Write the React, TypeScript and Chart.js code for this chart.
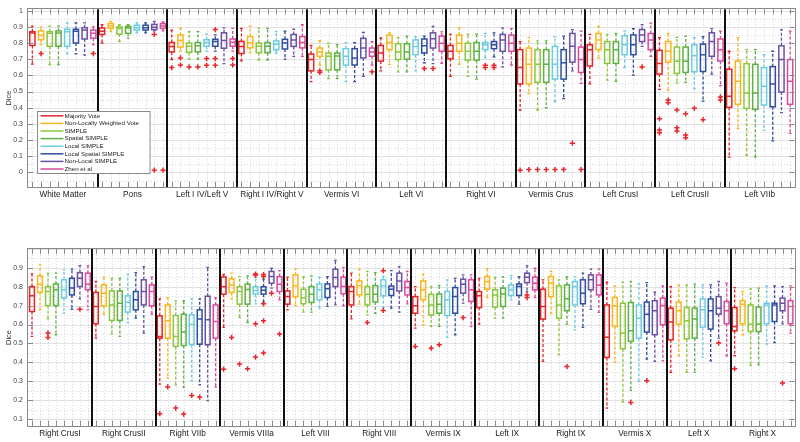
import React, { useEffect, useRef } from "react";
import { Chart, registerables } from "chart.js";
Chart.register(...registerables);

const FONT = '"Liberation Sans", Arial, Helvetica, sans-serif';

const METHODS = [
  "Majority Vote",
  "Non-Locally Weighted Vote",
  "SIMPLE",
  "Spatial SIMPLE",
  "Local SIMPLE",
  "Local Spatial SIMPLE",
  "Non-Local SIMPLE",
  "Zhen et al",
];
const COLORS = ["#e4252b", "#f7b71d", "#8dc63f", "#5fb045", "#6dcde0", "#2f4f9e", "#6a52a3", "#d94a9a"];
const OUTLIER_COLOR = "#e8262b";

const TOP_GROUPS = [
  "White Matter", "Pons", "Left I IV/Left V", "Right I IV/Right V", "Vermis VI", "Left VI",
  "Right VI", "Vermis Crus", "Left CrusI", "Left CrusII", "Left VIIb",
];
const BOTTOM_GROUPS = [
  "Right CrusI", "Right CrusII", "Right VIIb", "Vermis VIIIa", "Left VIII", "Right VIII",
  "Vermis IX", "Left IX", "Right IX", "Vermis X", "Left X", "Right X",
];

const TOP_Y_TICKS = [0, 0.1, 0.2, 0.3, 0.4, 0.5, 0.6, 0.7, 0.8, 0.9, 1];
const BOTTOM_Y_TICKS = [0.1, 0.2, 0.3, 0.4, 0.5, 0.6, 0.7, 0.8, 0.9];

// each box: [lowWhisker, q1, median, q3, highWhisker, ...outliers]
const WHITE_MATTER = [
  [0.67, 0.785, 0.862, 0.87, 0.905],
  [0.79, 0.82, 0.848, 0.875, 0.9, 0.735],
  [0.667, 0.78, 0.86, 0.87, 0.905],
  [0.667, 0.78, 0.862, 0.875, 0.905],
  [0.733, 0.78, 0.87, 0.885, 0.925],
  [0.733, 0.8, 0.873, 0.885, 0.925],
  [0.725, 0.825, 0.88, 0.895, 0.925],
  [0.79, 0.83, 0.86, 0.88, 0.9, 0.735],
];
const PONS = [
  [0.8, 0.853, 0.873, 0.893, 0.913],
  [0.87, 0.89, 0.905, 0.92, 0.934],
  [0.81, 0.855, 0.89, 0.9, 0.913],
  [0.83, 0.86, 0.893, 0.903, 0.913],
  [0.863, 0.88, 0.895, 0.91, 0.925],
  [0.863, 0.88, 0.895, 0.91, 0.925],
  [0.875, 0.883, 0.897, 0.915, 0.934, 0.853, 0.014],
  [0.875, 0.89, 0.905, 0.92, 0.93, 0.014],
];
const LEFT_I_IV = [
  [0.698, 0.745, 0.779, 0.803, 0.88, 0.648],
  [0.75, 0.775, 0.815, 0.85, 0.89, 0.708, 0.664],
  [0.7, 0.742, 0.78, 0.8, 0.87, 0.652],
  [0.7, 0.745, 0.783, 0.803, 0.87, 0.652],
  [0.75, 0.78, 0.803, 0.82, 0.855, 0.704, 0.662],
  [0.75, 0.78, 0.81, 0.823, 0.85, 0.883, 0.704, 0.662],
  [0.672, 0.768, 0.815, 0.863, 0.893],
  [0.75, 0.78, 0.805, 0.825, 0.89, 0.704, 0.664],
];
const RIGHT_I_IV = [
  [0.69, 0.735, 0.779, 0.81, 0.89],
  [0.74, 0.77, 0.8, 0.84, 0.905],
  [0.694, 0.74, 0.78, 0.8, 0.89],
  [0.694, 0.74, 0.78, 0.803, 0.89],
  [0.738, 0.759, 0.793, 0.813, 0.87],
  [0.7, 0.763, 0.8, 0.823, 0.873],
  [0.718, 0.779, 0.819, 0.853, 0.885],
  [0.718, 0.77, 0.803, 0.84, 0.913],
];
const VERMIS_VI = [
  [0.561, 0.628, 0.698, 0.732, 0.785],
  [0.664, 0.718, 0.744, 0.769, 0.815, 0.628, 0.618],
  [0.58, 0.634, 0.718, 0.738, 0.799],
  [0.58, 0.634, 0.72, 0.738, 0.79],
  [0.561, 0.664, 0.718, 0.765, 0.803],
  [0.561, 0.664, 0.708, 0.765, 0.803],
  [0.594, 0.708, 0.769, 0.829, 0.865],
  [0.664, 0.718, 0.744, 0.769, 0.809, 0.622],
];
const LEFT_VI = [
  [0.628, 0.688, 0.739, 0.785, 0.831],
  [0.668, 0.759, 0.803, 0.849, 0.863],
  [0.622, 0.698, 0.745, 0.795, 0.833],
  [0.622, 0.7, 0.745, 0.795, 0.843],
  [0.628, 0.728, 0.779, 0.819, 0.839],
  [0.678, 0.738, 0.783, 0.825, 0.843, 0.642],
  [0.672, 0.769, 0.827, 0.863, 0.903, 0.642],
  [0.674, 0.749, 0.799, 0.843, 0.869],
];
const RIGHT_VI = [
  [0.594, 0.702, 0.749, 0.785, 0.853],
  [0.668, 0.749, 0.799, 0.849, 0.893],
  [0.594, 0.694, 0.749, 0.799, 0.855],
  [0.577, 0.694, 0.749, 0.803, 0.855],
  [0.708, 0.759, 0.789, 0.803, 0.859, 0.662, 0.648],
  [0.714, 0.765, 0.789, 0.809, 0.863, 0.662, 0.648],
  [0.652, 0.749, 0.819, 0.853, 0.893],
  [0.664, 0.749, 0.799, 0.849, 0.889],
];
const VERMIS_CRUS = [
  [0.386, 0.547, 0.648, 0.759, 0.809, 0.014],
  [0.487, 0.547, 0.668, 0.769, 0.833, 0.018],
  [0.386, 0.557, 0.668, 0.759, 0.813, 0.018],
  [0.4, 0.557, 0.668, 0.759, 0.813, 0.018],
  [0.437, 0.577, 0.668, 0.779, 0.839, 0.018],
  [0.457, 0.577, 0.678, 0.759, 0.843, 0.018],
  [0.628, 0.682, 0.78, 0.859, 0.883, 0.181],
  [0.551, 0.618, 0.698, 0.775, 0.873, 0.018],
];
const LEFT_CRUS_I = [
  [0.547, 0.658, 0.759, 0.789, 0.853],
  [0.708, 0.759, 0.819, 0.859, 0.903],
  [0.571, 0.674, 0.759, 0.809, 0.853],
  [0.563, 0.674, 0.759, 0.809, 0.859],
  [0.648, 0.728, 0.789, 0.845, 0.873],
  [0.602, 0.728, 0.789, 0.85, 0.889],
  [0.779, 0.809, 0.849, 0.883, 0.913, 0.652],
  [0.718, 0.759, 0.819, 0.859, 0.923],
];
const LEFT_CRUS_II = [
  [0.513, 0.608, 0.674, 0.755, 0.833, 0.332, 0.262, 0.245],
  [0.507, 0.682, 0.749, 0.809, 0.859, 0.447, 0.431],
  [0.553, 0.612, 0.688, 0.775, 0.835, 0.386, 0.276, 0.256],
  [0.557, 0.618, 0.688, 0.775, 0.843, 0.362, 0.231, 0.215],
  [0.517, 0.622, 0.722, 0.789, 0.833, 0.396],
  [0.441, 0.624, 0.728, 0.793, 0.839, 0.326],
  [0.608, 0.718, 0.809, 0.863, 0.889],
  [0.537, 0.688, 0.759, 0.825, 0.873, 0.467, 0.447],
];
const LEFT_VIIB = [
  [0.095, 0.402, 0.471, 0.638, 0.749],
  [0.272, 0.421, 0.563, 0.688, 0.833],
  [0.105, 0.396, 0.491, 0.672, 0.759],
  [0.095, 0.39, 0.491, 0.668, 0.759],
  [0.26, 0.417, 0.533, 0.648, 0.728],
  [0.195, 0.406, 0.547, 0.654, 0.749],
  [0.37, 0.497, 0.698, 0.783, 0.883],
  [0.241, 0.421, 0.563, 0.698, 0.873],
];

const RIGHT_CRUS_I = [
  [0.537, 0.669, 0.752, 0.801, 0.868],
  [0.678, 0.77, 0.814, 0.858, 0.916],
  [0.63, 0.701, 0.775, 0.801, 0.872, 0.555, 0.532],
  [0.546, 0.701, 0.784, 0.815, 0.872],
  [0.66, 0.74, 0.784, 0.837, 0.889],
  [0.681, 0.757, 0.793, 0.845, 0.893],
  [0.736, 0.801, 0.845, 0.875, 0.912, 0.681],
  [0.678, 0.784, 0.814, 0.872, 0.911],
];
const RIGHT_CRUS_II = [
  [0.528, 0.604, 0.696, 0.77, 0.828],
  [0.655, 0.699, 0.766, 0.81, 0.851],
  [0.549, 0.622, 0.704, 0.778, 0.845],
  [0.537, 0.622, 0.713, 0.778, 0.845],
  [0.611, 0.666, 0.718, 0.752, 0.867],
  [0.634, 0.678, 0.731, 0.775, 0.875],
  [0.555, 0.704, 0.775, 0.837, 0.907],
  [0.655, 0.699, 0.775, 0.81, 0.851],
];
const RIGHT_VIIB = [
  [0.285, 0.528, 0.537, 0.646, 0.736, 0.128],
  [0.317, 0.528, 0.62, 0.704, 0.743, 0.27],
  [0.281, 0.484, 0.537, 0.648, 0.726, 0.158],
  [0.267, 0.489, 0.56, 0.655, 0.726, 0.126],
  [0.303, 0.493, 0.602, 0.652, 0.736, 0.225],
  [0.281, 0.496, 0.63, 0.678, 0.736, 0.216],
  [0.197, 0.493, 0.625, 0.75, 0.902],
  [0.269, 0.528, 0.616, 0.704, 0.743],
];
const VERMIS_VIIIA = [
  [0.585, 0.761, 0.8, 0.852, 0.865, 0.364],
  [0.736, 0.77, 0.81, 0.842, 0.872, 0.532],
  [0.637, 0.708, 0.775, 0.8, 0.854, 0.391],
  [0.611, 0.708, 0.785, 0.814, 0.858, 0.366],
  [0.71, 0.761, 0.78, 0.8, 0.849, 0.867, 0.862, 0.604, 0.428],
  [0.72, 0.761, 0.781, 0.8, 0.84, 0.865, 0.855, 0.71, 0.62, 0.45],
  [0.793, 0.819, 0.854, 0.881, 0.898, 0.766],
  [0.731, 0.775, 0.814, 0.854, 0.886, 0.55],
];
const LEFT_VIII = [
  [0.678, 0.708, 0.748, 0.778, 0.851],
  [0.701, 0.748, 0.805, 0.863, 0.893],
  [0.666, 0.71, 0.74, 0.787, 0.854],
  [0.666, 0.717, 0.76, 0.801, 0.858],
  [0.687, 0.731, 0.784, 0.815, 0.851],
  [0.696, 0.743, 0.79, 0.815, 0.854],
  [0.704, 0.801, 0.849, 0.893, 0.939],
  [0.699, 0.763, 0.801, 0.851, 0.902],
];
const RIGHT_VIII = [
  [0.63, 0.704, 0.775, 0.801, 0.872],
  [0.708, 0.757, 0.805, 0.831, 0.893],
  [0.651, 0.704, 0.761, 0.801, 0.881, 0.611],
  [0.66, 0.719, 0.76, 0.806, 0.875],
  [0.69, 0.752, 0.805, 0.837, 0.856, 0.885, 0.675],
  [0.687, 0.754, 0.787, 0.804, 0.886],
  [0.666, 0.778, 0.831, 0.872, 0.907],
  [0.71, 0.757, 0.796, 0.828, 0.881],
];
const VERMIS_IX = [
  [0.581, 0.66, 0.699, 0.748, 0.801, 0.484],
  [0.599, 0.731, 0.784, 0.831, 0.867],
  [0.59, 0.651, 0.704, 0.76, 0.801, 0.475],
  [0.59, 0.66, 0.708, 0.762, 0.807, 0.493],
  [0.532, 0.648, 0.731, 0.775, 0.837],
  [0.546, 0.66, 0.748, 0.796, 0.845],
  [0.713, 0.766, 0.814, 0.84, 0.863, 0.637],
  [0.59, 0.722, 0.784, 0.837, 0.863],
];
const LEFT_IX = [
  [0.602, 0.69, 0.752, 0.775, 0.845],
  [0.743, 0.787, 0.828, 0.854, 0.895],
  [0.634, 0.692, 0.757, 0.784, 0.849],
  [0.634, 0.696, 0.762, 0.793, 0.854],
  [0.731, 0.754, 0.784, 0.81, 0.859],
  [0.708, 0.754, 0.801, 0.815, 0.854],
  [0.775, 0.822, 0.851, 0.872, 0.911, 0.757, 0.743],
  [0.743, 0.784, 0.819, 0.851, 0.898],
];
const RIGHT_IX = [
  [0.405, 0.629, 0.696, 0.787, 0.837],
  [0.66, 0.748, 0.819, 0.854, 0.881],
  [0.44, 0.634, 0.704, 0.805, 0.837],
  [0.602, 0.673, 0.736, 0.81, 0.854, 0.378],
  [0.572, 0.704, 0.801, 0.828, 0.854],
  [0.585, 0.71, 0.766, 0.837, 0.872],
  [0.681, 0.784, 0.837, 0.863, 0.893],
  [0.664, 0.757, 0.81, 0.863, 0.893],
];
const VERMIS_X = [
  [0.158, 0.426, 0.533, 0.704, 0.824],
  [0.401, 0.59, 0.699, 0.743, 0.805],
  [0.19, 0.472, 0.555, 0.713, 0.824],
  [0.252, 0.511, 0.567, 0.717, 0.828, 0.188],
  [0.299, 0.528, 0.634, 0.704, 0.815],
  [0.417, 0.56, 0.655, 0.719, 0.822, 0.303],
  [0.405, 0.546, 0.673, 0.726, 0.771],
  [0.408, 0.599, 0.701, 0.74, 0.805],
];
const LEFT_X = [
  [0.347, 0.519, 0.613, 0.687, 0.801],
  [0.435, 0.603, 0.673, 0.719, 0.81],
  [0.347, 0.524, 0.62, 0.69, 0.81],
  [0.347, 0.528, 0.629, 0.687, 0.814],
  [0.428, 0.586, 0.678, 0.736, 0.81],
  [0.408, 0.576, 0.673, 0.736, 0.81],
  [0.528, 0.655, 0.687, 0.748, 0.828, 0.502],
  [0.435, 0.604, 0.673, 0.722, 0.819],
];
const RIGHT_X = [
  [0.435, 0.567, 0.59, 0.69, 0.796, 0.366],
  [0.546, 0.604, 0.708, 0.726, 0.775],
  [0.384, 0.563, 0.603, 0.704, 0.789],
  [0.387, 0.563, 0.603, 0.692, 0.793],
  [0.497, 0.604, 0.704, 0.713, 0.805],
  [0.505, 0.616, 0.704, 0.713, 0.805],
  [0.604, 0.673, 0.713, 0.74, 0.801, 0.29],
  [0.555, 0.604, 0.696, 0.726, 0.805],
];

const TOP_DATA = [WHITE_MATTER, PONS, LEFT_I_IV, RIGHT_I_IV, VERMIS_VI, LEFT_VI, RIGHT_VI, VERMIS_CRUS, LEFT_CRUS_I, LEFT_CRUS_II, LEFT_VIIB];
const BOTTOM_DATA = [RIGHT_CRUS_I, RIGHT_CRUS_II, RIGHT_VIIB, VERMIS_VIIIA, LEFT_VIII, RIGHT_VIII, VERMIS_IX, LEFT_IX, RIGHT_IX, VERMIS_X, LEFT_X, RIGHT_X];

const NM = METHODS.length;

function crisp(v: number) {
  return Math.round(v) + 0.5;
}

function makePlugin(data: number[][][], yTicks: number[], withLegend: boolean) {
  return {
    id: "boxes",
    beforeDatasetsDraw(chart: any) {
      const { ctx, chartArea } = chart;
      const { left, right, top, bottom } = chartArea;
      const x = chart.scales.x;
      const y = chart.scales.y;
      ctx.save();
      ctx.beginPath();
      ctx.rect(left, top, right - left, bottom - top);
      ctx.clip();
      // horizontal grid
      const k0 = Math.ceil(y.min * 20 - 1e-6);
      const k1 = Math.floor(y.max * 20 + 1e-6);
      for (let k = k0; k <= k1; k++) {
        const py = crisp(y.getPixelForValue(k / 20));
        ctx.beginPath();
        if (k % 2 === 0) {
          ctx.setLineDash([]);
          ctx.strokeStyle = "#e2e2e2";
        } else {
          ctx.setLineDash([1, 2]);
          ctx.strokeStyle = "#d8d8d8";
        }
        ctx.lineWidth = 1;
        ctx.moveTo(left, py);
        ctx.lineTo(right, py);
        ctx.stroke();
      }
      // vertical grid
      ctx.setLineDash([1, 2]);
      ctx.strokeStyle = "#d8d8d8";
      for (let i = 0; i < data.length * NM; i++) {
        const px = crisp(x.getPixelForValue(i + 0.5));
        ctx.beginPath();
        ctx.moveTo(px, top);
        ctx.lineTo(px, bottom);
        ctx.stroke();
      }
      ctx.setLineDash([]);
      // boxes
      const half = x.getPixelForValue(0.3) - x.getPixelForValue(0);
      const capHalf = half * 0.55;
      data.forEach((group, g) => {
        group.forEach((b, m) => {
          const [lo, q1, med, q3, hi] = b;
          const cx = x.getPixelForValue(g * NM + m + 0.5);
          const pLo = y.getPixelForValue(lo);
          const pQ1 = y.getPixelForValue(q1);
          const pMed = y.getPixelForValue(med);
          const pQ3 = y.getPixelForValue(q3);
          const pHi = y.getPixelForValue(hi);
          ctx.strokeStyle = COLORS[m];
          // whiskers
          ctx.lineWidth = 1.3;
          ctx.setLineDash([3, 2]);
          ctx.beginPath();
          ctx.moveTo(cx, pQ3);
          ctx.lineTo(cx, pHi);
          ctx.moveTo(cx, pQ1);
          ctx.lineTo(cx, pLo);
          ctx.stroke();
          ctx.setLineDash([]);
          // caps
          ctx.lineWidth = 1.3;
          ctx.beginPath();
          ctx.moveTo(cx - capHalf, pHi);
          ctx.lineTo(cx + capHalf, pHi);
          ctx.moveTo(cx - capHalf, pLo);
          ctx.lineTo(cx + capHalf, pLo);
          ctx.stroke();
          // box
          ctx.lineWidth = 1.5;
          ctx.strokeRect(cx - half, pQ3, half * 2, pQ1 - pQ3);
          // median
          ctx.beginPath();
          ctx.moveTo(cx - half, pMed);
          ctx.lineTo(cx + half, pMed);
          ctx.stroke();
        });
      });
      ctx.restore();
    },
    afterDatasetsDraw(chart: any) {
      const { ctx, chartArea } = chart;
      const { left, right, top, bottom } = chartArea;
      const x = chart.scales.x;
      const y = chart.scales.y;
      ctx.save();
      // tick marks
      ctx.strokeStyle = "#8a8a8a";
      ctx.lineWidth = 1;
      for (let i = 0; i < data.length * NM; i++) {
        const px = crisp(x.getPixelForValue(i + 0.5));
        ctx.beginPath();
        ctx.moveTo(px, bottom);
        ctx.lineTo(px, bottom - 5);
        ctx.moveTo(px, top);
        ctx.lineTo(px, top + 5);
        ctx.stroke();
      }
      yTicks.forEach((v) => {
        const py = crisp(y.getPixelForValue(v));
        ctx.beginPath();
        ctx.moveTo(left, py);
        ctx.lineTo(left + 5, py);
        ctx.moveTo(right, py);
        ctx.lineTo(right - 5, py);
        ctx.stroke();
      });
      // frame
      ctx.strokeStyle = "#8a8a8a";
      ctx.strokeRect(crisp(left) - 1, crisp(top) - 1, Math.round(right - left) + 1, Math.round(bottom - top) + 1);
      // group separators
      ctx.strokeStyle = "#111";
      ctx.lineWidth = 2;
      for (let g = 1; g < data.length; g++) {
        const px = Math.round(x.getPixelForValue(g * NM));
        ctx.beginPath();
        ctx.moveTo(px, top);
        ctx.lineTo(px, bottom);
        ctx.stroke();
      }
      if (withLegend) {
        const x0 = left + 9.5;
        const y0 = 111.5;
        const w = 112.5;
        const h = 62;
        ctx.fillStyle = "#fff";
        ctx.fillRect(x0, y0, w, h);
        ctx.strokeStyle = "#8a8a8a";
        ctx.lineWidth = 1;
        ctx.strokeRect(x0, y0, w, h);
        ctx.font = `6.2px ${FONT}`;
        ctx.textBaseline = "middle";
        ctx.textAlign = "left";
        METHODS.forEach((name, i) => {
          const yy = y0 + 4.3 + i * 7.6;
          ctx.strokeStyle = COLORS[i];
          ctx.lineWidth = 1.5;
          ctx.beginPath();
          ctx.moveTo(x0 + 3, yy);
          ctx.lineTo(x0 + 26, yy);
          ctx.stroke();
          ctx.fillStyle = "#222";
          ctx.fillText(name, x0 + 27, yy);
        });
      }
      ctx.restore();
    },
  };
}

function makeConfig(
  groups: string[],
  data: number[][][],
  yTicks: number[],
  yMin: number,
  yMax: number,
  padTop: number,
  xAxisH: number,
  withLegend: boolean
): any {
  const outliers: { x: number; y: number }[] = [];
  data.forEach((group, g) =>
    group.forEach((b, m) => {
      b.slice(5).forEach((v) => outliers.push({ x: g * NM + m + 0.5, y: v }));
    })
  );
  return {
    type: "scatter",
    data: {
      datasets: [
        {
          label: "outliers",
          data: outliers,
          pointStyle: "cross",
          pointRadius: 2.6,
          borderWidth: 1.5,
          borderColor: OUTLIER_COLOR,
          backgroundColor: OUTLIER_COLOR,
        },
      ],
    },
    options: {
      responsive: false,
      animation: false,
      devicePixelRatio: 1,
      layout: { padding: { top: padTop, right: 5, left: 0, bottom: 0 } },
      plugins: { legend: { display: false }, tooltip: { enabled: false } },
      scales: {
        x: { type: "linear", display: false, min: 0, max: groups.length * NM },
        xl: {
          type: "category",
          labels: groups,
          position: "bottom",
          offset: true,
          grid: { display: false, drawTicks: false },
          border: { display: false },
          ticks: {
            font: { family: FONT, size: 8.25 },
            color: "#222",
            maxRotation: 0,
            minRotation: 0,
            autoSkip: false,
            padding: 3,
          },
          afterFit: (s: any) => {
            s.height = xAxisH;
          },
        },
        y: {
          type: "linear",
          min: yMin,
          max: yMax,
          afterBuildTicks: (s: any) => {
            s.ticks = yTicks.map((v) => ({ value: v }));
          },
          grid: { display: false, drawTicks: false },
          border: { display: false },
          ticks: {
            font: { family: FONT, size: 7 },
            color: "#444",
            padding: 5,
            callback: (v: any) => String(Number(Number(v).toFixed(1))),
          },
          title: {
            display: true,
            text: "Dice",
            font: { family: FONT, size: 7.5 },
            color: "#333",
            padding: { top: 4, bottom: 0 },
          },
          afterFit: (s: any) => {
            s.width = 28;
          },
        },
      },
    },
    plugins: [makePlugin(data, yTicks, withLegend)],
  };
}

function Panel(props: { cfg: () => any; height: number; top: number }) {
  const ref = useRef<HTMLCanvasElement>(null);
  useEffect(() => {
    if (!ref.current) return;
    const chart = new Chart(ref.current, props.cfg());
    return () => chart.destroy();
  }, []);
  return (
    <div style={{ position: "absolute", left: 0, top: props.top, width: 800, height: props.height }}>
      <canvas ref={ref} width={800} height={props.height} style={{ width: 800, height: props.height, display: "block" }} />
    </div>
  );
}

export default function App() {
  return (
    <div style={{ position: "fixed", left: 0, top: 0, width: 800, height: 442, background: "#fff", overflow: "hidden" }}>
      <Panel
        top={0}
        height={222}
        cfg={() => makeConfig(TOP_GROUPS, TOP_DATA, TOP_Y_TICKS, -0.09, 1.009, 5, 35, true)}
      />
      <Panel
        top={222}
        height={220}
        cfg={() => makeConfig(BOTTOM_GROUPS, BOTTOM_DATA, BOTTOM_Y_TICKS, 0.063, 1.0, 27, 16, false)}
      />
    </div>
  );
}
